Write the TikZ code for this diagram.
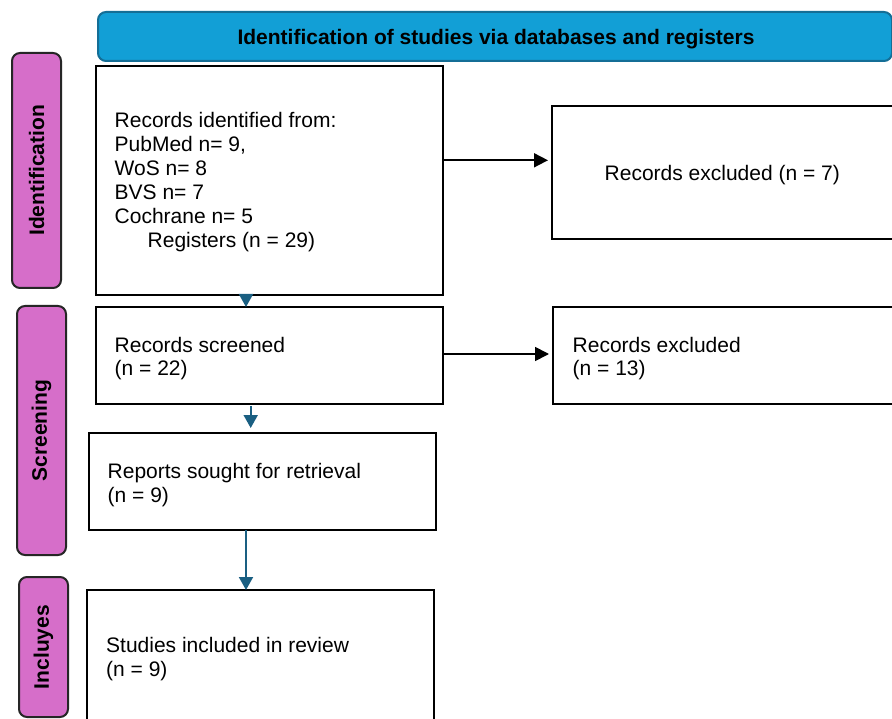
\documentclass[tikz,border=0pt]{standalone}
\usepackage{fontspec}
\setmainfont{Liberation Sans}
\usetikzlibrary{arrows.meta}
\definecolor{hdrfill}{RGB}{18,159,214}
\definecolor{hdrline}{RGB}{20,110,150}
\definecolor{pinkfill}{RGB}{214,110,201}
\definecolor{tealarrow}{RGB}{26,95,130}
\tikzset{
  box/.style={draw=black, line width=2pt, fill=white, anchor=north west, inner sep=0pt, outer sep=0pt},
  side/.style={draw=black!85, line width=2pt, fill=pinkfill, rounded corners=8pt, anchor=north west, inner sep=0pt, outer sep=0pt},
  sidetext/.style={rotate=90, font=\fontsize{21}{24}\selectfont\bfseries, inner sep=0pt},
  txt/.style={anchor=base west, inner sep=0pt, align=left, font=\fontsize{21}{24}\selectfont},
  blackarrow/.style={draw=black, line width=1.8pt, -{Triangle[length=14pt,width=14pt]}, shorten >=4pt},
  tealarr/.style={draw=tealarrow, line width=2pt, -{Triangle[length=13pt,width=14pt]}}
}
\begin{document}
\begin{tikzpicture}[x=1pt,y=-1pt]
\clip (0,0) rectangle (892,719);
\fill[white] (0,0) rectangle (892,719);
% header
\node[draw=hdrline, line width=2pt, fill=hdrfill, rounded corners=8pt, anchor=north west, inner sep=0pt, minimum width=794pt, minimum height=49pt] (hdr) at (97,11) {};
\node[anchor=base, inner sep=0pt, font=\fontsize{21}{24}\selectfont\bfseries] (hdrtxt) at (496,44.3) {Identification of studies via databases and registers};
% side labels
\node[side, minimum width=49pt, minimum height=235pt] (sid) at (12,53) {};
\node[sidetext] (sidt) at (sid.center) {Identification};
\node[side, minimum width=49pt, minimum height=249pt] (sscr) at (17,306) {};
\node[sidetext] (sscrt) at (sscr.center) {Screening};
\node[side, minimum width=49pt, minimum height=140pt] (sinc) at (19,577) {};
\node[sidetext] (sinct) at (sinc.center) {Incluyes};
% boxes
\node[box, minimum width=347pt, minimum height=229pt] (b1) at (96,66) {};
\node[box, minimum width=360pt, minimum height=133pt] (r1) at (552,106) {};
\node[box, minimum width=347pt, minimum height=97pt] (b2) at (96,307) {};
\node[box, minimum width=360pt, minimum height=97pt] (r2) at (553,307) {};
\node[box, minimum width=347pt, minimum height=97pt] (b3) at (89,433) {};
\node[box, minimum width=347pt, minimum height=160pt] (b4) at (87,590) {};
% texts (base anchor = baseline of the last line)
\node[txt] (t1) at (114.5,248) {Records identified from:\\PubMed n= 9,\\WoS n= 8\\BVS n= 7\\Cochrane n= 5\\\hspace*{33pt}Registers (n = 29)};
\node[txt] (tr1) at (604.5,181) {Records excluded (n = 7)};
\node[txt] (t2) at (114.5,376) {Records screened\\(n = 22)};
\node[txt] (tr2) at (572.5,376) {Records excluded\\(n = 13)};
\node[txt] (t3) at (107.5,502) {Reports sought for retrieval\\(n = 9)};
\node[txt] (t4) at (106,676) {Studies included in review\\(n = 9)};
% arrows
\draw[blackarrow] (b1.east |- 0,160.3) -- (r1.west |- 0,160.3);
\draw[blackarrow] (b2.east |- 0,354) -- (r2.west |- 0,354);
\draw[tealarr] (b1.south -| 246,0) -- (b2.north -| 246,0);
\coordinate (a2s) at (250.7,406);
\coordinate (a2e) at (250.7,428);
\draw[tealarr] (a2s) -- (a2e);
\draw[tealarr] (b3.south -| 246,0) -- (b4.north -| 246,0);
\end{tikzpicture}
\end{document}
